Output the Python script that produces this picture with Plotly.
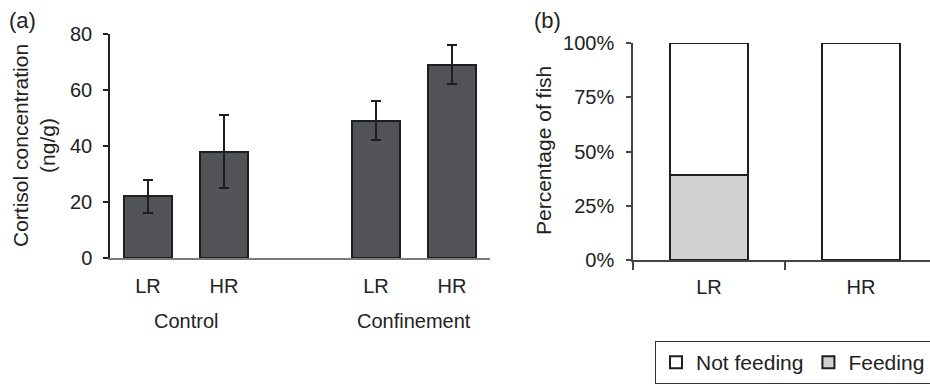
import plotly.graph_objects as go

# ---- data ----
groups = ["Control", "Confinement"]
lines = ["LR", "HR"]
cortisol_mean = [22, 38, 49, 69]
cortisol_err = [6, 13, 7, 7]
cortisol_ticks = [0, 20, 40, 60, 80]

feed_cats = ["LR", "HR"]
feeding = [39, 0]
not_feeding = [61, 100]
pct_ticks = [0, 25, 50, 75, 100]

FONT = "Liberation Sans, Arial, sans-serif"
TXT = "#222222"
EDGE = "#1e1e1e"

# slot positions: each group takes len(lines)+1 slots (one empty gap)
pos = [g * (len(lines) + 1) + i for g in range(len(groups)) for i in range(len(lines))]
ticktext = [lines[i] for g in range(len(groups)) for i in range(len(lines))]

fig = go.Figure()

fig.add_trace(go.Bar(
    x=pos, y=cortisol_mean, width=0.63,
    marker=dict(color="#525357", line=dict(color=EDGE, width=2)),
    error_y=dict(type="data", array=cortisol_err, color=EDGE, thickness=2, width=5),
    showlegend=False, xaxis="x", yaxis="y",
))

fig.add_trace(go.Bar(
    x=list(range(len(feed_cats))), y=feeding, width=0.51, name="Feeding",
    marker=dict(color="#d0d1d3", line=dict(color=EDGE, width=2)),
    xaxis="x2", yaxis="y2",
))
fig.add_trace(go.Bar(
    x=list(range(len(feed_cats))), y=not_feeding, width=0.51, name="Not feeding",
    marker=dict(color="#ffffff", line=dict(color=EDGE, width=2)),
    xaxis="x2", yaxis="y2",
))

W, H = 930, 385


def px_x(p):
    return p / W


def px_y(p):
    return 1 - p / H


ann = []
# group labels
for g, name in enumerate(groups):
    center = g * (len(lines) + 1) + (len(lines) - 1) / 2
    ann.append(dict(x=center, y=px_y(321), xref="x", yref="paper", text=name,
                    showarrow=False, font=dict(size=20, color=TXT, family=FONT),
                    xanchor="center", yanchor="middle"))
ann.append(dict(x=px_x(22), y=px_y(20), xref="paper", yref="paper", text="(a)",
                showarrow=False, font=dict(size=22, color=TXT, family=FONT),
                xanchor="center", yanchor="middle"))
ann.append(dict(x=px_x(547), y=px_y(20), xref="paper", yref="paper", text="(b)",
                showarrow=False, font=dict(size=22, color=TXT, family=FONT),
                xanchor="center", yanchor="middle"))
# y-axis titles
ann.append(dict(x=px_x(34), y=px_y(146), xref="paper", yref="paper",
                text="Cortisol concentration<br>(ng/g)", textangle=-90,
                showarrow=False, font=dict(size=21, color=TXT, family=FONT),
                xanchor="center", yanchor="middle"))
ann.append(dict(x=px_x(543), y=px_y(151), xref="paper", yref="paper",
                text="Percentage of fish", textangle=-90,
                showarrow=False, font=dict(size=21, color=TXT, family=FONT),
                xanchor="center", yanchor="middle"))

fig.update_layout(
    width=W, height=H,
    margin=dict(l=0, r=0, t=0, b=0, autoexpand=False),
    paper_bgcolor="white", plot_bgcolor="white",
    font=dict(family=FONT, size=20, color=TXT),
    barmode="stack",
    annotations=ann,
    xaxis=dict(domain=[px_x(110), px_x(490)], range=[-0.5, 4.5],
               tickvals=pos, ticktext=ticktext, ticks="", showgrid=False,
               showline=True, linecolor="#7a7a7a", linewidth=2, zeroline=False,
               ticklabelstandoff=9, tickfont=dict(size=20)),
    yaxis=dict(domain=[px_y(258), px_y(34)], range=[0, 80], tickvals=cortisol_ticks,
               ticks="outside", ticklen=5, tickwidth=1.5, tickcolor="#222",
               showline=True, linecolor="#222", linewidth=1.5, showgrid=False, zeroline=False,
               tickfont=dict(size=20), ticklabelstandoff=7),
    xaxis2=dict(domain=[px_x(633), 1.0], range=[-0.5, -0.5 + (930 - 633) / 152],
                tickvals=list(range(len(feed_cats))), ticktext=feed_cats, showgrid=False,
                showline=True, linecolor="#444", linewidth=1.5, zeroline=False,
                ticks="", tickfont=dict(size=20), ticklabelstandoff=8, anchor="y2",
                minor=dict(tickvals=[-0.5, 0.5, 1.5], ticks="outside", ticklen=8,
                           tickcolor="#444", tickwidth=1.5)),
    yaxis2=dict(domain=[px_y(260), px_y(43)], range=[0, 100], tickvals=pct_ticks,
                ticktext=[f"{v}%" for v in pct_ticks],
                ticks="outside", ticklen=5, tickwidth=1.5, tickcolor="#444",
                showline=True, linecolor="#444", linewidth=1.5, showgrid=False, zeroline=False,
                tickfont=dict(size=20), ticklabelstandoff=8, anchor="x2"),
    legend=dict(orientation="h", x=px_x(931), xanchor="right", y=px_y(384), yanchor="bottom",
                bordercolor="#333", borderwidth=1, traceorder="reversed",
                font=dict(size=21, color=TXT), bgcolor="white"),
)

fig.write_html(
    "out.html",
    config={"displayModeBar": False},
    post_script="document.body.style.margin='0';document.body.style.overflow='hidden';",
)
